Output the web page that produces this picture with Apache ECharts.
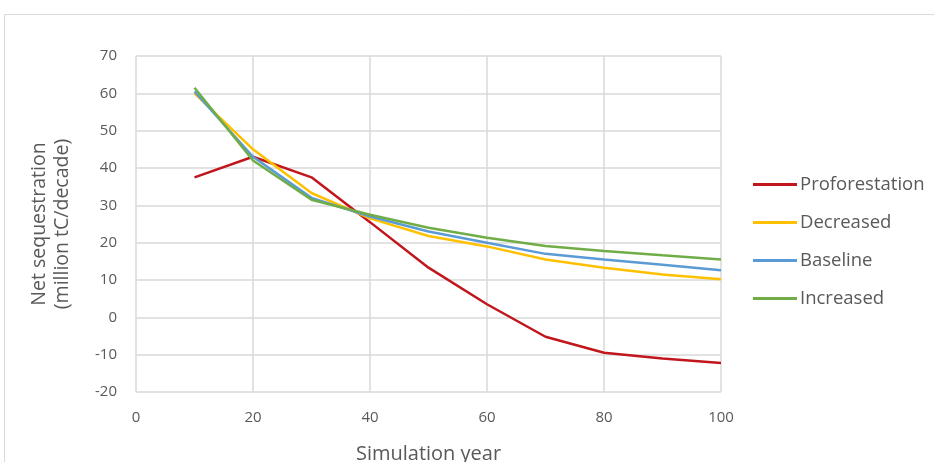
<!DOCTYPE html>
<html><head><meta charset="utf-8">
<script src="https://cdn.jsdelivr.net/npm/echarts@6/dist/echarts.min.js"></script>
<style>html,body{margin:0;padding:0;background:#fff}#c{width:934px;height:462px}</style>
</head><body><div id="c"></div>
<script>
const years = [10,20,30,40,50,60,70,80,90,100];
const proforestation = [37.5,43,37.5,25.5,13.3,3.5,-5.2,-9.5,-11,-12.2];
const decreased = [60,45,33.3,26.5,21.8,19,15.5,13.3,11.5,10.2];
const baseline = [60.5,43,32,27,23,20,17,15.5,14.1,12.6];
const increased = [61.5,42,31.5,27.5,24,21.3,19.1,17.8,16.6,15.5];
const seriesNames = ['Proforestation','Decreased','Baseline','Increased'];
const seriesData = [proforestation,decreased,baseline,increased];
const colors = ['#C0161C','#FFC000','#5B9BD5','#70AD47'];
const font = '"Open Sans", "Noto Sans", sans-serif';
const chart = echarts.init(document.getElementById('c'));
chart.setOption({
  animation:false,
  graphic:[{type:'rect',shape:{x:4.5,y:14.5,width:940,height:460},style:{fill:'none',stroke:'#d9d9d9',lineWidth:1},silent:true}],
  grid:{left:136,right:213,top:56,bottom:70,outerBoundsMode:'none',containLabel:false},
  legend:{orient:'vertical',left:748,top:170,itemGap:19,itemWidth:44,itemHeight:3,icon:'rect',
    textStyle:{color:'#595959',fontSize:18.5,fontFamily:font,padding:[0,0,0,-2]},
    data:seriesNames},
  xAxis:{type:'value',min:0,max:100,interval:20,name:'Simulation year',nameLocation:'middle',nameGap:52,
    nameTextStyle:{color:'#595959',fontSize:20,fontFamily:font},
    axisLine:{show:false},axisTick:{show:false},
    axisLabel:{color:'#595959',fontSize:15,fontFamily:font,margin:18},
    splitLine:{show:true,lineStyle:{color:'#d9d9d9',width:1.5}}},
  yAxis:{type:'value',min:-20,max:70,interval:10,name:'Net sequestration\n(million tC/decade)',nameLocation:'middle',nameGap:62,
    nameTextStyle:{color:'#595959',fontSize:19.5,fontFamily:font,lineHeight:23},
    axisLine:{show:false},axisTick:{show:false},
    axisLabel:{color:'#595959',fontSize:15,fontFamily:font,margin:19},
    splitLine:{show:true,lineStyle:{color:'#d9d9d9',width:1.5}}},
  series:seriesNames.map((n,i)=>({name:n,type:'line',showSymbol:false,symbol:'none',
    data:years.map((y,j)=>[y,seriesData[i][j]]),
    lineStyle:{color:colors[i],width:2.5},itemStyle:{color:colors[i]}}))
});
</script></body></html>
